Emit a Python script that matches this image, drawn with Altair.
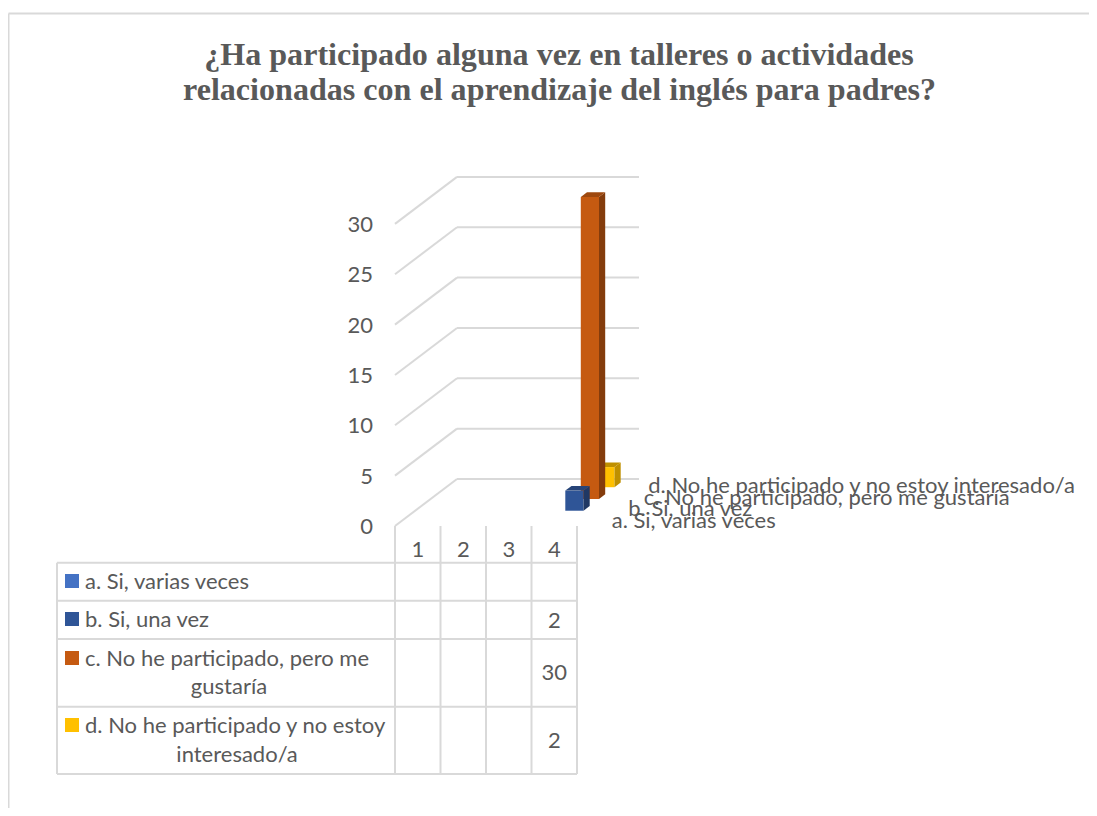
import altair as alt
import pandas as pd

# ---- data ----
TITLE_LINES = ["¿Ha participado alguna vez en talleres o actividades",
               "relacionadas con el aprendizaje del inglés para padres?"]
CATEGORIES = ["1", "2", "3", "4"]
SERIES = ["a. Si, varias veces", "b. Si, una vez",
          "c. No he participado, pero me gustaría",
          "d. No he participado y no estoy interesado/a"]
ROW_LINES = [["a. Si, varias veces"], ["b. Si, una vez"],
             ["c. No he participado, pero me", "gustaría"],
             ["d. No he participado y no estoy", "interesado/a"]]
VALUES_A = [None, None, None, None]
VALUES_B = [None, None, None, 2]
VALUES_C = [None, None, None, 30]
VALUES_D = [None, None, None, 2]
TICKS = [0, 5, 10, 15, 20, 25, 30]

# ---- styling / layout ----
W, H = 1081, 800
OX, OY = 8, 8                 # page offset of the plot area
X0, Y0 = 395, 526             # front-bottom-left corner of the 3D box (page px)
CW, VH = 45.5, 10.07          # px per category, px per value unit
DX, DY = 62, 47               # depth vector of the box (px)
FRONT = ["#4472C4", "#2F5597", "#C55A11", "#FFC000"]
SIDE = ["#2F5597", "#203864", "#843C0C", "#BF9000"]
TOP = ["#2F5597", "#264478", "#9E480E", "#BF9000"]
GRID = "#D9D9D9"
TXT = "#595959"
SANS = "Lato"
FS = 22

def ux(px):   # page px -> category units
    return (px - X0) / CW
def uy(py):   # page py -> value units
    return (Y0 - py) / VH

xs = alt.Scale(domain=[ux(OX), ux(OX + W)], range=[0, W], nice=False, zero=False)
ys = alt.Scale(domain=[uy(OY + H), uy(OY)], range=[H, 0], nice=False, zero=False)
X = alt.X("x:Q", scale=xs, axis=None)
Y = alt.Y("y:Q", scale=ys, axis=None)
X2 = alt.X2("x2")
Y2 = alt.Y2("y2")

ddx, ddy = DX / CW, DY / VH   # depth vector in data units

def rules(rows, width):
    return alt.Chart(pd.DataFrame(rows, columns=["x", "y", "x2", "y2"])).mark_rule(
        color=GRID, strokeWidth=width).encode(x=X, y=Y, x2=X2, y2=Y2)

def texts(rows, **kw):
    return alt.Chart(pd.DataFrame(rows, columns=["x", "y", "t"])).mark_text(
        color=TXT, font=SANS, fontSize=FS, **kw).encode(x=X, y=Y, text="t:N")

layers = []
# chart frame
layers.append(rules([(ux(OX + 0.5), uy(13.5), ux(OX + W), uy(13.5)),
                     (ux(OX + 0.5), uy(13.5), ux(OX + 0.5), uy(OY + H))], 2))

# 3D gridlines
n = len(CATEGORIES)
grid_back = [(ddx, t + ddy, n + ddx, t + ddy) for t in TICKS]
grid_side = [(0, t, ddx, t + ddy) for t in TICKS]
layers.append(rules(grid_back + grid_side, 2))

# table
row_y = [562.7, 600.7, 639, 706.7, 774]
layers.append(rules([(ux(57), uy(y), n, uy(y)) for y in row_y]
                    + [(ux(57), uy(row_y[0]), ux(57), uy(row_y[-1]))]
                    + [(i, 0, i, uy(row_y[-1])) for i in range(n + 1)], 2))

# 3D bars, back to front
slots = len(SERIES)
def bar_faces(s, cat, v):
    d0 = (s + 0.3) / slots
    d1 = (s + 0.7) / slots
    c = cat + 0.5
    xl, xr = c - 0.2 + d0 * ddx, c + 0.2 + d0 * ddx
    bx, by = (d1 - d0) * ddx, (d1 - d0) * ddy
    b = d0 * ddy
    t = v + b
    front = [(xl, t, b), (xr, t, b)]
    side = [(xr, t, b), (xr + bx, t + by, b + by)]
    top = [(xl, t, t), (xl + bx, t + by, t),
           (xr, t + by, t), (xr + bx, t + by, t + by)]
    return front, side, top

for s, vals in reversed(list(enumerate([VALUES_A, VALUES_B, VALUES_C, VALUES_D]))):
    for cat, v in enumerate(vals):
        if v is None:
            continue
        for rows, col in zip(bar_faces(s, cat, v), (FRONT[s], SIDE[s], TOP[s])):
            df = pd.DataFrame(rows, columns=["x", "y", "y2"])
            layers.append(alt.Chart(df).mark_area(color=col, opacity=1,
                                                  interpolate="linear").encode(x=X, y=Y, y2=Y2))

# value axis labels
layers.append(texts([(ux(373), t - 1 / VH, str(t)) for t in TICKS], align="right", baseline="middle"))
# category labels
layers.append(texts([(i + 0.5, uy(550), c) for i, c in enumerate(CATEGORIES)],
                    align="center", baseline="middle"))
# depth-axis labels
offs = [27, 28, 28, 17]
layers.append(texts([(n + (i + 0.5) / slots * ddx + offs[i] / CW, (i + 0.5) / slots * ddy - 1 / VH, lab)
                     for i, lab in enumerate(SERIES)], align="left", baseline="middle"))

# table legend keys
key_y = [581, 619, 658, 725]
keys = pd.DataFrame({"x": [ux(65)] * 4, "x2": [ux(79)] * 4,
                     "y": [uy(k - 7) for k in key_y], "y2": [uy(k + 7) for k in key_y],
                     "c": FRONT})
layers.append(alt.Chart(keys).mark_rect().encode(
    x=X, x2=X2, y=Y, y2=Y2, color=alt.Color("c:N", scale=None)))

# table row text
layers.append(texts([(ux(85), uy(y + 1), ROW_LINES[i][0]) for i, y in enumerate(key_y)],
                    align="left", baseline="middle"))
layers.append(texts([(ux(229), uy(687), ROW_LINES[2][1]), (ux(237), uy(755), ROW_LINES[3][1])],
                    align="center", baseline="middle"))
# table values
cell_y = [581, 620, 672, 740]
cell_rows = []
for vals, y in zip([VALUES_A, VALUES_B, VALUES_C, VALUES_D], cell_y):
    for i, v in enumerate(vals):
        if v is not None:
            cell_rows.append((i + 0.5, uy(y + 1), str(v)))
layers.append(texts(cell_rows, align="center", baseline="middle"))

# title
title_df = pd.DataFrame({"x": [ux(559), ux(559.5)], "y": [uy(55), uy(90)], "t": TITLE_LINES})
layers.append(alt.Chart(title_df).mark_text(
    color=TXT, font="Liberation Serif", fontWeight="bold", fontSize=32.1,
    align="center", baseline="middle").encode(x=X, y=Y, text="t:N"))

chart = alt.layer(*layers).properties(width=W, height=H, padding=0,
        autosize=alt.AutoSizeParams(type="none")).configure_view(stroke=None)
chart.save("out.html", embed_options={"renderer": "svg", "actions": False})
